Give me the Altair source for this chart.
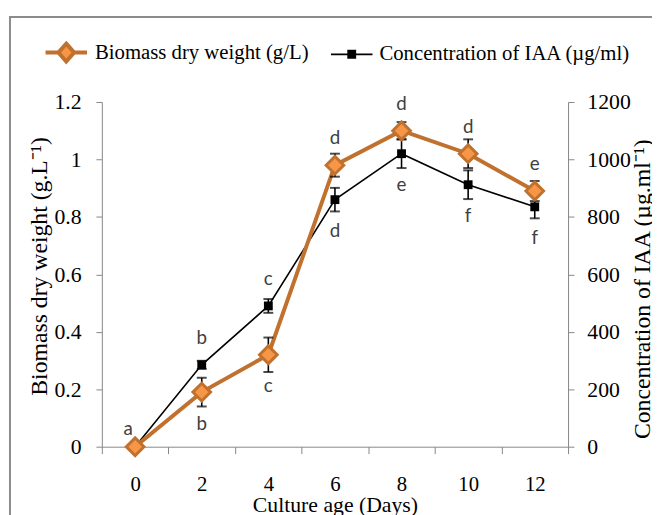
import altair as alt
import pandas as pd

# ---------------- data ----------------
days = [0, 2, 4, 6, 8, 10, 12]
biomass = [0.0, 0.19, 0.32, 0.98, 1.10, 1.02, 0.89]
biomass_sd = [0.0, 0.05, 0.06, 0.04, 0.03, 0.05, 0.035]
biomass_letters = ["a", "b", "c", "d", "d", "d", "e"]
biomass_letter_side = ["corner", "below", "below", "above", "above", "above", "above"]

iaa = [0, 285, 490, 860, 1020, 912, 835]
iaa_sd = [0, 14, 24, 41, 50, 50, 40]
iaa_letters = ["", "b", "c", "d", "e", "f", "f"]
iaa_letter_side = ["corner", "above", "above", "below", "below", "below", "below"]

x_ticks = [-1, 1, 3, 5, 7, 9, 11, 13]
bio_ticks = [0, 0.2, 0.4, 0.6, 0.8, 1.0, 1.2]
iaa_ticks = [0, 200, 400, 600, 800, 1000, 1200]
series_names = ["Biomass dry weight (g/L)", "Concentration of IAA (µg/ml)"]

# ---------------- styling ----------------
W, H = 472, 349
ORANGE_LINE = "#C0712E"
ORANGE_FILL = "#F79646"
AXIS_GRAY = "#868686"
SERIF = "Liberation Serif"

bio_df = pd.DataFrame({"day": days, "value": biomass, "sd": biomass_sd,
                       "letter": biomass_letters, "side": biomass_letter_side})
bio_df["lo"] = bio_df["value"] - bio_df["sd"]
bio_df["hi"] = bio_df["value"] + bio_df["sd"]

iaa_df = pd.DataFrame({"day": days, "value": iaa, "sd": iaa_sd,
                       "letter": iaa_letters, "side": iaa_letter_side})
iaa_df["lo"] = iaa_df["value"] - iaa_df["sd"]
iaa_df["hi"] = iaa_df["value"] + iaa_df["sd"]

x_axis = alt.Axis(
    values=x_ticks, tickSize=7, grid=False,
    labelExpr="datum.value < 12 ? format(datum.value + 1, 'd') : ''",
    labelOffset=W / 14, labelPadding=20, labelFlush=False, labelOverlap=False,
    labelFont=SERIF, labelFontSize=21, labelColor="black",
    domainColor=AXIS_GRAY, tickColor=AXIS_GRAY,
    title="Culture age (Days)", titleFont=SERIF, titleFontSize=22,
    titleFontWeight="normal", titleColor="black",
    titleX=W / 2, titleY=66, titleAlign="center", titleBaseline="alphabetic",
)


def X():
    return alt.X("day:Q", scale=alt.Scale(domain=[-1, 13], nice=False, zero=False), axis=x_axis)


bio_axis = alt.Axis(
    orient="left", values=bio_ticks, format="~g", tickSize=6, grid=False,
    labelPadding=15, labelFlush=False, labelOverlap=False,
    labelFont=SERIF, labelFontSize=22, labelColor="black",
    domainColor=AXIS_GRAY, tickColor=AXIS_GRAY,
    title="Biomass dry weight (g.L⁻¹)", titleFont=SERIF, titleFontSize=24,
    titleFontWeight="normal", titleColor="black", titleAngle=270,
    titleX=-56, titleY=166, titleAlign="center", titleBaseline="alphabetic",
)
iaa_axis = alt.Axis(
    orient="right", values=iaa_ticks, format="d", tickSize=6, grid=False,
    labelPadding=13, labelFlush=False, labelOverlap=False,
    labelFont=SERIF, labelFontSize=22, labelColor="black",
    domainColor=AXIS_GRAY, tickColor=AXIS_GRAY,
    title="Concentration of IAA (µg.ml⁻¹)", titleFont=SERIF, titleFontSize=24,
    titleFontWeight="normal", titleColor="black", titleAngle=270,
    titleX=82, titleY=189, titleAlign="center", titleBaseline="alphabetic",
)


def YB(field):
    return alt.Y(f"{field}:Q", scale=alt.Scale(domain=[0, 1.2], nice=False), axis=bio_axis)


def YI(field):
    return alt.Y(f"{field}:Q", scale=alt.Scale(domain=[0, 1200], nice=False), axis=iaa_axis)


def series_layers(df, Yf, line_mark, point_mark):
    base = alt.Chart(df)
    line = base.mark_line(**line_mark).encode(x=X(), y=Yf("value"))
    pts = base.mark_point(**point_mark).encode(x=X(), y=Yf("value"))
    errdf = base.transform_filter("datum.sd > 0")
    rule = errdf.mark_rule(color="black", strokeWidth=1.6).encode(x=X(), y=Yf("lo"), y2=alt.Y2("hi:Q"))
    cap_lo = errdf.mark_tick(orient="horizontal", size=10, thickness=2, color="black").encode(x=X(), y=Yf("lo"))
    cap_hi = errdf.mark_tick(orient="horizontal", size=10, thickness=2, color="black").encode(x=X(), y=Yf("hi"))
    txt = dict(font="Lato", fontSize=19, color="#404040", baseline="middle", align="center")
    above = base.transform_filter("datum.side == 'above'").mark_text(dy=-27, **txt).encode(
        x=X(), y=Yf("value"), text="letter:N")
    below = base.transform_filter("datum.side == 'below'").mark_text(dy=32, **txt).encode(
        x=X(), y=Yf("value"), text="letter:N")
    corner = base.transform_filter("datum.side == 'corner'").mark_text(dx=-7, dy=-18, **txt).encode(
        x=X(), y=Yf("value"), text="letter:N")
    return alt.layer(line, rule, cap_lo, cap_hi, pts, above, below, corner)


iaa_layer = series_layers(
    iaa_df, YI,
    dict(color="black", strokeWidth=1.6),
    dict(shape="square", filled=True, color="black", size=80, opacity=1),
)
bio_layer = series_layers(
    bio_df, YB,
    dict(color=ORANGE_LINE, strokeWidth=4),
    dict(shape="diamond", filled=True, fill=ORANGE_FILL, stroke=ORANGE_LINE,
         strokeWidth=3, size=320, opacity=1),
)

# outer chart frame (decoration)
frame = alt.Chart(pd.DataFrame({"k": [0]})).mark_rect(
    fillOpacity=0, stroke="#8c8c8c", strokeWidth=2
).encode(x=alt.value(-93), x2=alt.value(W + 200), y=alt.value(-86), y2=alt.value(H + 200))

# legend built from scales
legend_df = pd.DataFrame({"series": series_names})
leg = alt.Legend(
    orient="none", legendX=-59, legendY=-73, direction="horizontal", title=None,
    labelFont=SERIF, labelFontSize=21, labelColor="black", labelOffset=6,
    columnPadding=18, labelLimit=400, symbolSize=1764,
)
paths = [
    "M-1,-1M1,1M-1,0H-0.38M0.38,0H1M0,-0.43L0.38,0L0,0.43L-0.38,0Z",
    "M-1,-1M1,1M-1,0H1M-0.17,-0.17H0.17V0.17H-0.17Z",
]
legend_layer = alt.Chart(legend_df).transform_filter("false").mark_point(
    filled=True, opacity=1, size=1764
).encode(
    fill=alt.Fill("series:N", scale=alt.Scale(domain=series_names, range=[ORANGE_FILL, "black"]), legend=leg),
    stroke=alt.Stroke("series:N", scale=alt.Scale(domain=series_names, range=[ORANGE_LINE, "black"]), legend=leg),
    shape=alt.Shape("series:N", scale=alt.Scale(domain=series_names, range=paths), legend=leg),
    strokeWidth=alt.StrokeWidth("series:N", scale=alt.Scale(domain=series_names, range=[4, 1.8]), legend=leg),
)

chart = alt.layer(frame, iaa_layer, bio_layer, legend_layer).resolve_scale(
    y="independent"
).properties(
    width=W, height=H,
    padding={"left": 95, "top": 92, "right": 652 - 95 - W, "bottom": 507 - 92 - H},
    autosize=alt.AutoSizeParams(type="none"),
    background="white",
).configure_view(strokeWidth=0)

chart.save("out.html", embed_options={"renderer": "svg", "actions": False})
